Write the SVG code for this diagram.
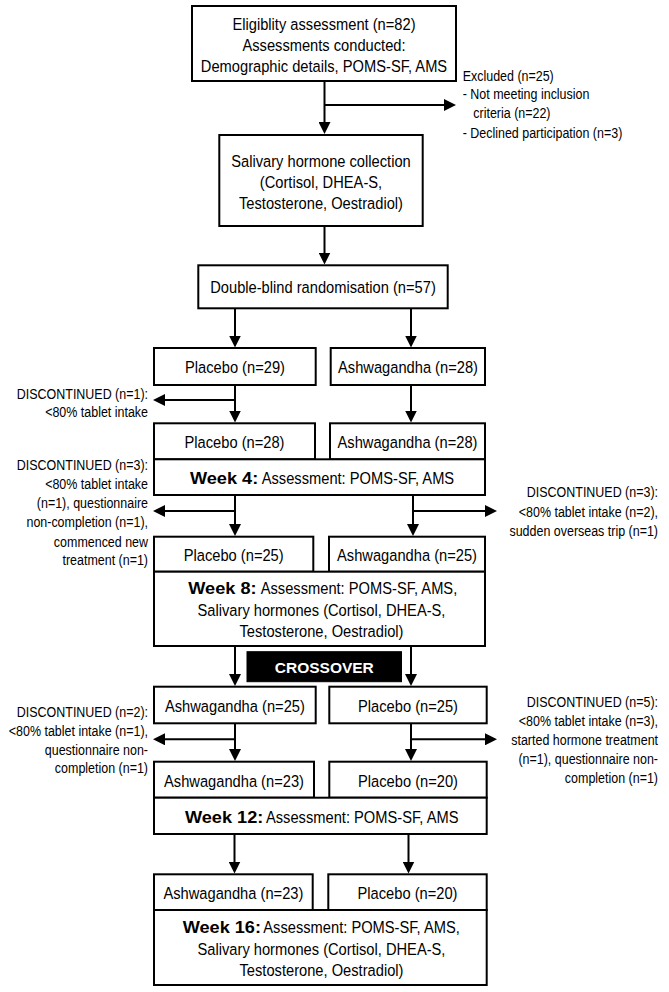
<svg xmlns="http://www.w3.org/2000/svg" width="669" height="992" viewBox="0 0 669 992">
<defs>
<style>
text{font-family:"Liberation Sans",Arial,sans-serif;fill:#000;}
.n{font-size:16.5px;}
.s{font-size:14px;}
.c{text-anchor:middle;transform-box:fill-box;transform-origin:center;transform:scaleX(0.89);}
.l{text-anchor:start;transform-box:fill-box;transform-origin:left;transform:scaleX(0.89);}
.r{text-anchor:end;transform-box:fill-box;transform-origin:right;transform:scaleX(0.89);}
.b{font-size:16.5px;font-weight:bold;text-anchor:start;transform-box:fill-box;transform-origin:left;transform:scaleX(1.1);}
.box{fill:#fff;stroke:#000;stroke-width:2;}
.dark{fill:#000;stroke:#000;stroke-width:1;}
.xo{font-size:15.5px;font-weight:bold;fill:#fff;text-anchor:middle;}
.ln{stroke:#000;stroke-width:2;fill:none;marker-end:url(#ah);}
</style>
<marker id="ah" markerUnits="userSpaceOnUse" markerWidth="12" markerHeight="12" refX="9" refY="6" orient="auto">
<path d="M0,0 L12,6 L0,12 Z" fill="#000"/>
</marker>
</defs>
<rect width="669" height="992" fill="#fff"/>

<g id="connectors">
<line class="ln" x1="324.5" y1="81" x2="324.5" y2="131"/>
<line class="ln" x1="324.5" y1="105" x2="453" y2="105"/>
<line class="ln" x1="324.5" y1="226" x2="324.5" y2="261.5"/>
<line class="ln" x1="235" y1="308.3" x2="235" y2="344.5"/>
<line class="ln" x1="411" y1="308.3" x2="411" y2="344.5"/>
<line class="ln" x1="235" y1="385" x2="235" y2="419.5"/>
<line class="ln" x1="235" y1="400" x2="156" y2="400"/>
<line class="ln" x1="411" y1="385" x2="411" y2="419.5"/>
<line class="ln" x1="235" y1="495" x2="235" y2="533"/>
<line class="ln" x1="235" y1="511" x2="156" y2="511"/>
<line class="ln" x1="413" y1="495" x2="413" y2="533"/>
<line class="ln" x1="413" y1="511" x2="494" y2="511"/>
<line class="ln" x1="235" y1="646" x2="235" y2="683"/>
<line class="ln" x1="411" y1="646" x2="411" y2="683"/>
<line class="ln" x1="235" y1="723.3" x2="235" y2="758"/>
<line class="ln" x1="235" y1="739.3" x2="156" y2="739.3"/>
<line class="ln" x1="411" y1="723.3" x2="411" y2="758"/>
<line class="ln" x1="411" y1="739.3" x2="494" y2="739.3"/>
<line class="ln" x1="234.5" y1="834" x2="234.5" y2="870.5"/>
<line class="ln" x1="408.5" y1="834" x2="408.5" y2="870.5"/>
</g>

<g id="eligibility">
<rect class="box" x="192" y="6" width="264" height="75"/>
<text class="n c" x="324" y="30">Eligiblity assessment (n=82)</text>
<text class="n c" x="324" y="51.3">Assessments conducted:</text>
<text class="n c" x="324" y="72.5">Demographic details, POMS-SF, AMS</text>
</g>

<g id="excluded">
<text class="s l" x="462.7" y="80.7">Excluded (n=25)</text>
<text class="s l" x="462.7" y="99.3">- Not meeting inclusion</text>
<text class="s l" x="473.3" y="118.3">criteria (n=22)</text>
<text class="s l" x="462.7" y="138.3">- Declined participation (n=3)</text>
</g>

<g id="salivary">
<rect class="box" x="219.3" y="135" width="203.4" height="91"/>
<text class="n c" x="321" y="166.7">Salivary hormone collection</text>
<text class="n c" x="321" y="188">(Cortisol, DHEA-S,</text>
<text class="n c" x="321" y="209.5">Testosterone, Oestradiol)</text>
</g>

<g id="randomisation">
<rect class="box" x="198.3" y="265.3" width="249.4" height="43"/>
<text class="n c" x="323" y="293">Double-blind randomisation (n=57)</text>
</g>

<g id="placebo29">
<rect class="box" x="154" y="348" width="161.7" height="37"/>
<text class="n c" x="235" y="373.5">Placebo (n=29)</text>
</g>
<g id="ashwa28a">
<rect class="box" x="330.7" y="348" width="154.3" height="37"/>
<text class="n c" x="408" y="373.5">Ashwagandha (n=28)</text>
</g>

<g id="disc1">
<text class="s r" x="148" y="399">DISCONTINUED (n=1):</text>
<text class="s r" x="148" y="417.5">&lt;80% tablet intake</text>
</g>

<g id="placebo28">
<rect class="box" x="154" y="423.3" width="161" height="36"/>
<text class="n c" x="234.5" y="448.3">Placebo (n=28)</text>
</g>
<g id="ashwa28b">
<rect class="box" x="330" y="423.3" width="155" height="36"/>
<text class="n c" x="407.5" y="448.3">Ashwagandha (n=28)</text>
</g>
<g id="week4">
<rect class="box" x="154" y="459.3" width="331" height="35.7"/>
<text class="b" x="190" y="483.8">Week 4:</text>
<text class="n l" x="261.7" y="483.8">Assessment: POMS-SF, AMS</text>
</g>

<g id="disc3a">
<text class="s r" x="148" y="470">DISCONTINUED (n=3):</text>
<text class="s r" x="148" y="489.3">&lt;80% tablet intake</text>
<text class="s r" x="148" y="508.3">(n=1), questionnaire</text>
<text class="s r" x="148" y="527.3">non-completion (n=1),</text>
<text class="s r" x="148" y="546.7">commenced new</text>
<text class="s r" x="148" y="565.3">treatment (n=1)</text>
</g>

<g id="disc3b">
<text class="s r" x="658" y="497.3">DISCONTINUED (n=3):</text>
<text class="s r" x="658" y="516.7">&lt;80% tablet intake (n=2),</text>
<text class="s r" x="658" y="536">sudden overseas trip (n=1)</text>
</g>

<g id="placebo25">
<rect class="box" x="154" y="536.7" width="159.3" height="35"/>
<text class="n c" x="233.7" y="561.2">Placebo (n=25)</text>
</g>
<g id="ashwa25">
<rect class="box" x="329" y="536.7" width="156" height="35"/>
<text class="n c" x="407" y="561.2">Ashwagandha (n=25)</text>
</g>
<g id="week8">
<rect class="box" x="154" y="571.7" width="331" height="74.3"/>
<text class="b" x="188.3" y="594">Week 8:</text>
<text class="n l" x="260.7" y="594">Assessment: POMS-SF, AMS,</text>
<text class="n c" x="321.5" y="616">Salivary hormones (Cortisol, DHEA-S,</text>
<text class="n c" x="321.5" y="637.3">Testosterone, Oestradiol)</text>
</g>

<g id="crossover">
<rect class="dark" x="247" y="651.7" width="154.5" height="30"/>
<text class="xo" x="324.3" y="672.5">CROSSOVER</text>
</g>

<g id="ashwa25c">
<rect class="box" x="154" y="686.7" width="161.7" height="36.6"/>
<text class="n c" x="234.9" y="712">Ashwagandha (n=25)</text>
</g>
<g id="placebo25c">
<rect class="box" x="329.3" y="686.7" width="157.4" height="36.6"/>
<text class="n c" x="408" y="712">Placebo (n=25)</text>
</g>

<g id="disc2">
<text class="s r" x="148" y="717.3">DISCONTINUED (n=2):</text>
<text class="s r" x="148" y="736">&lt;80% tablet intake (n=1),</text>
<text class="s r" x="148" y="754.7">questionnaire non-</text>
<text class="s r" x="148" y="773.5">completion (n=1)</text>
</g>

<g id="disc5">
<text class="s r" x="658" y="707.3">DISCONTINUED (n=5):</text>
<text class="s r" x="658" y="726">&lt;80% tablet intake (n=3),</text>
<text class="s r" x="658" y="745">started hormone treatment</text>
<text class="s r" x="658" y="764">(n=1), questionnaire non-</text>
<text class="s r" x="658" y="783.3">completion (n=1)</text>
</g>

<g id="ashwa23">
<rect class="box" x="154" y="761.7" width="160" height="36"/>
<text class="n c" x="234" y="786.7">Ashwagandha (n=23)</text>
</g>
<g id="placebo20">
<rect class="box" x="329.3" y="761.7" width="157.4" height="36"/>
<text class="n c" x="408" y="786.7">Placebo (n=20)</text>
</g>
<g id="week12">
<rect class="box" x="154" y="797.7" width="332.7" height="36.3"/>
<text class="b" x="185" y="822.8">Week 12:</text>
<text class="n l" x="266" y="822.8">Assessment: POMS-SF, AMS</text>
</g>

<g id="ashwa23b">
<rect class="box" x="154" y="874.3" width="158.7" height="35.7"/>
<text class="n c" x="233.4" y="899.2">Ashwagandha (n=23)</text>
</g>
<g id="placebo20b">
<rect class="box" x="328.3" y="874.3" width="158.4" height="35.7"/>
<text class="n c" x="407.5" y="899.2">Placebo (n=20)</text>
</g>
<g id="week16">
<rect class="box" x="154" y="910" width="332.7" height="75"/>
<text class="b" x="182.7" y="933">Week 16:</text>
<text class="n l" x="263.3" y="933">Assessment: POMS-SF, AMS,</text>
<text class="n c" x="321.5" y="955">Salivary hormones (Cortisol, DHEA-S,</text>
<text class="n c" x="321.5" y="976">Testosterone, Oestradiol)</text>
</g>
</svg>
